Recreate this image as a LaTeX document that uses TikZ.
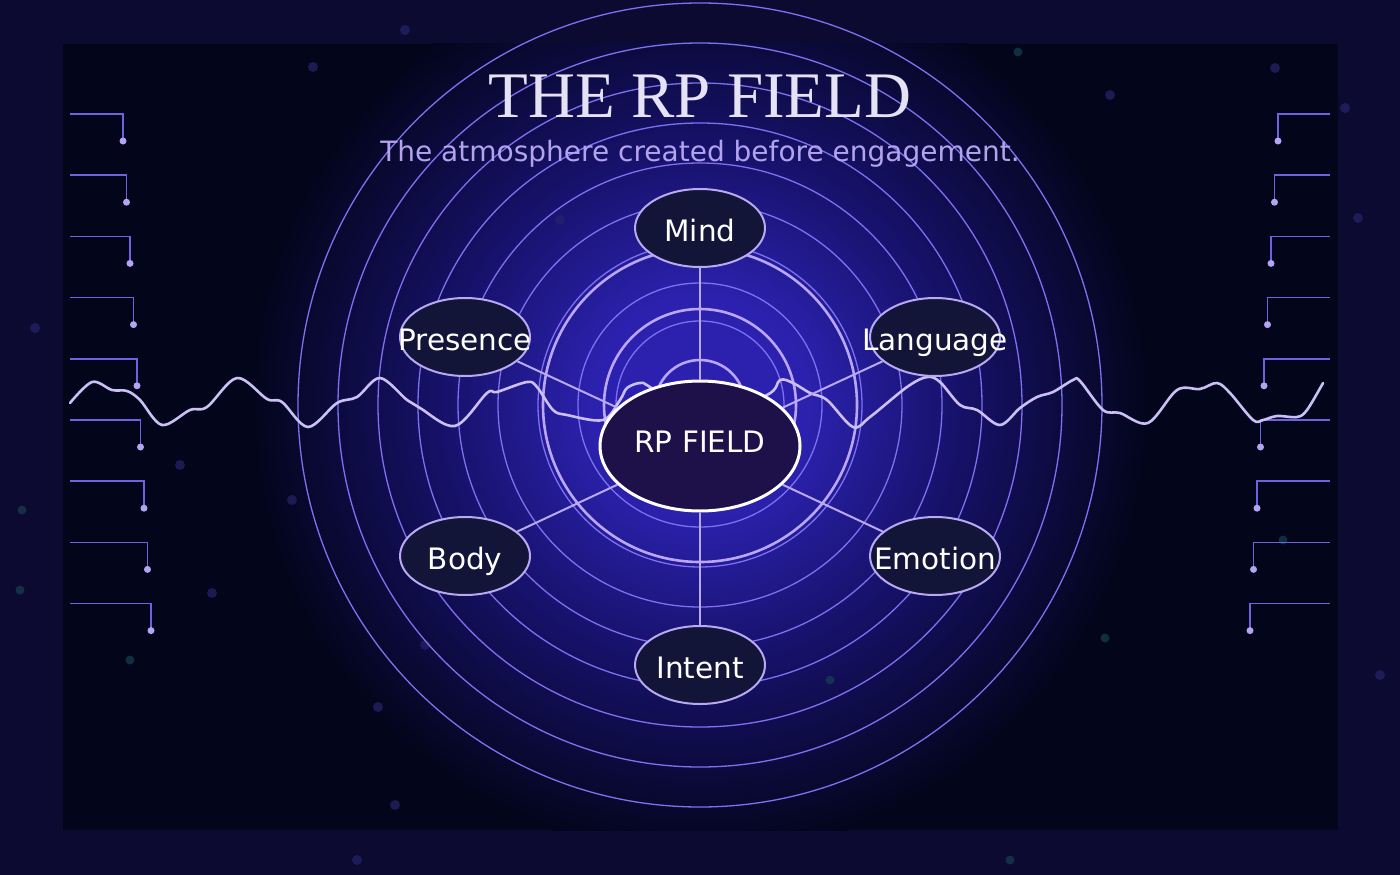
\documentclass[tikz,border=0pt]{standalone}
\usepackage{fontspec}
\setmainfont{DejaVu Sans}
\newfontfamily\headfont{Liberation Serif}
\usetikzlibrary{shapes.geometric}
\definecolor{framebg}{HTML}{0C0A31}
\definecolor{panel}{HTML}{03051B}
\definecolor{glowc}{HTML}{2B21AE}
\definecolor{glowm}{HTML}{17126C}
\definecolor{ringc}{HTML}{7F70F2}
\definecolor{ringb}{HTML}{B9A6FF}
\definecolor{lilac}{HTML}{B9A9F2}
\definecolor{wavec}{HTML}{CBC0F5}
\definecolor{facetfill}{HTML}{121538}
\definecolor{corefill}{HTML}{1E1048}
\definecolor{tickc}{HTML}{6E62E0}
\definecolor{dotc}{HTML}{B4A4F4}
\definecolor{titlec}{HTML}{E6E2F6}
\definecolor{subc}{HTML}{B3A3EE}
\definecolor{speckp}{HTML}{26236A}
\definecolor{speckt}{HTML}{15404F}
\pgfdeclareradialshading{fieldglow}{\pgfpoint{0bp}{0bp}}{color(0bp)=(glowc); color(6bp)=(glowc); color(14bp)=(glowm); color(25bp)=(panel); color(50bp)=(panel)}

\begin{document}
\begin{tikzpicture}[x=1pt,y=-1pt,
  thinring/.style={ringc,line width=1.3pt},
  thickring/.style={ringb,line width=2.6pt},
  spoke/.style={lilac,line width=2pt},
  facet/.style={ellipse,draw=lilac,line width=2pt,fill=facetfill,text=white,
    minimum width=130pt,minimum height=78pt,inner sep=0pt,text height=26pt,text depth=0pt,
    font=\fontsize{29.5}{29.5}\selectfont},
  core/.style={ellipse,draw=white,line width=3pt,fill=corefill,text=white,
    minimum width=200pt,minimum height=130pt,inner sep=0pt,text height=12pt,text depth=0pt,
    font=\fontsize{29.5}{29.5}\selectfont},
  tick/.style={tickc,line width=1.5pt}]
  \useasboundingbox[fill=framebg] (0,0) rectangle (1400,875);
  \fill[panel] (63,44) rectangle (1338,830);
  \begin{scope}
    \clip (63,44) rectangle (1338,830);
    \shade[shading=fieldglow] (700,405) circle (450);
  \end{scope}
  \foreach \p in {(405,30),(313,67),(1110,95),(1275,68),(1345,108),(1358,218),(35,328),
    (180,465),(212,593),(1380,675),(395,805),(357,860),(560,220),(425,645),(378,707),(292,500)}
    \fill[speckp,opacity=.7] \p circle (5);
  \foreach \p in {(1018,52),(22,510),(20,590),(1105,638),(130,660),(1283,540),(1010,860),(830,680)}
    \fill[speckt,opacity=.7] \p circle (4.5);
  \foreach \r in {84,122,162,202,242,282,322,362,402}
    \draw[thinring] (700,405) circle (\r);
  \foreach \r in {45,96,157}
    \draw[thickring] (700,405) circle (\r);
  \foreach \i in {0,...,8}{
    \pgfmathsetmacro\yy{114+61.2*\i}
    \pgfmathsetmacro\xl{123+3.5*\i}
    \pgfmathsetmacro\xr{1278-3.5*\i}
    \draw[tick] (70,\yy) -| (\xl,\yy+27);
    \fill[dotc] (\xl,\yy+27) circle (3.5);
    \draw[tick] (1330,\yy) -| (\xr,\yy+27);
    \fill[dotc] (\xr,\yy+27) circle (3.5);
  }
  \draw[wavec,line width=2.6pt,line join=round,line cap=round] plot[smooth,tension=.55] coordinates {
    (70,403) (92,382) (112,390) (127,391) (140,400) (162,425) (190,410) (207,407) (237,378)
    (267,399) (282,402) (308,427) (337,403) (357,397) (380,378) (407,400) (420,408) (455,426)
    (487,393) (497,392) (527,382) (537,387) (553,410) (567,415) (603,420) (620,400) (627,388)
    (640,383) (650,387) (700,420) (767,395) (780,380) (793,383) (810,393) (827,400) (853,427)
    (870,417) (907,387) (927,377) (940,382) (960,405) (977,410) (1000,425) (1020,408) (1037,397)
    (1053,392) (1073,380) (1080,381) (1103,410) (1120,413) (1148,423) (1177,390) (1200,389)
    (1217,383) (1230,393) (1253,420) (1263,420) (1277,416) (1297,417) (1307,410) (1323,383)};
  \node[core] (rp) at (700,446) {\makebox[0pt]{RP FIELD}};
  \node[facet] (mind) at (700,228) {\makebox[0pt]{Mind}};
  \node[facet] (presence) at (465,337) {\makebox[0pt]{Presence}};
  \node[facet] (language) at (935,337) {\makebox[0pt]{Language}};
  \node[facet] (body) at (465,556) {\makebox[0pt]{Body}};
  \node[facet] (emotion) at (935,556) {\makebox[0pt]{Emotion}};
  \node[facet] (intent) at (700,665) {\makebox[0pt]{Intent}};
  \foreach \n in {mind,presence,language,body,emotion,intent}
    \draw[spoke] (rp) -- (\n);
  \node[text=titlec,font=\headfont\fontsize{65}{65}\selectfont] (title) at (700,96) {THE RP FIELD};
  \node[text=subc,font=\fontsize{28}{28}\selectfont] (subtitle) at (700,154) {The atmosphere created before engagement.};
\end{tikzpicture}
\end{document}
